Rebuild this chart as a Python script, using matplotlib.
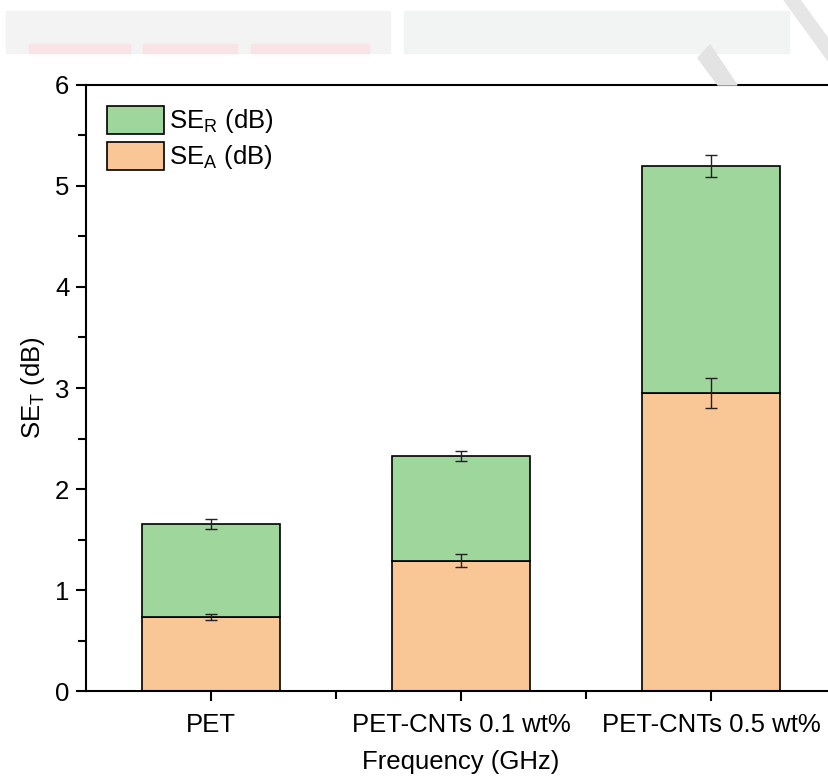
import numpy as np
import matplotlib.pyplot as plt
from matplotlib.patches import Rectangle, Polygon

plt.rcParams['font.family'] = ['Liberation Sans', 'DejaVu Sans']
plt.rcParams['mathtext.fontset'] = 'custom'
plt.rcParams['mathtext.rm'] = 'Liberation Sans'

samples = ['PET', 'PET-CNTs 0.1 wt%', 'PET-CNTs 0.5 wt%']
se_a = [0.73, 1.29, 2.95]
se_a_err = [0.03, 0.065, 0.15]
se_r = [0.92, 1.04, 2.25]
se_t_err = [0.05, 0.05, 0.11]

green = '#9fd69b'
orange = '#f9c696'
fs = 18.5

fig = plt.figure(figsize=(8.29, 7.81), dpi=100)
ax = fig.add_axes([0.1037, 0.1152, 0.905, 0.776])

x = np.arange(len(samples))
se_t = np.array(se_a) + np.array(se_r)
ax.bar(x, se_a, width=0.55, color=orange, edgecolor='black', linewidth=1.2,
       label='SE$_\\mathregular{A}$ (dB)', zorder=2)
ax.bar(x, se_r, width=0.55, bottom=se_a, color=green, edgecolor='black',
       linewidth=1.2, label='SE$_\\mathregular{R}$ (dB)', zorder=2)
ax.errorbar(x, se_a, yerr=se_a_err, fmt='none', ecolor='#222222',
            elinewidth=1, capsize=4.5, capthick=1, zorder=3)
ax.errorbar(x, se_t, yerr=se_t_err, fmt='none', ecolor='#222222',
            elinewidth=1, capsize=4.5, capthick=1, zorder=3)

ax.set_xlim(-0.5, 2.5)
ax.set_ylim(0, 6)
ax.set_xticks(x)
ax.set_xticklabels(samples)
ax.set_xticks([0.5, 1.5], minor=True)
ax.set_yticks(range(7))
ax.set_yticks(np.arange(0.5, 6, 1), minor=True)
ax.tick_params(axis='both', which='major', direction='out', length=7, width=1.5,
               labelsize=fs, pad=5)
ax.tick_params(axis='x', which='major', pad=9)
ax.tick_params(axis='both', which='minor', direction='out', length=5.5, width=1.5)
for s in ax.spines.values():
    s.set_linewidth(1.5)

ax.set_xlabel('Frequency (GHz)', fontsize=fs, labelpad=9)
ax.set_ylabel('SE$_\\mathregular{T}$ (dB)', fontsize=fs, labelpad=6)

h, l = ax.get_legend_handles_labels()
ax.legend(h[::-1], l[::-1], loc='upper left', frameon=False, fontsize=fs,
          handlelength=2.25, handleheight=1.3, handletextpad=0.2,
          labelspacing=0.25, borderaxespad=0.4, bbox_to_anchor=(0.0, 1.0))

# faint scan header at top
fig.patches.append(Rectangle((6 / 829, 1 - 53 / 781), 384 / 829, 42 / 781,
                             transform=fig.transFigure, color='#f3f3f3', zorder=0))
fig.patches.append(Rectangle((404 / 829, 1 - 53 / 781), 385 / 829, 42 / 781,
                             transform=fig.transFigure, color='#f2f3f3', zorder=0))
for x0, x1 in [(29, 130), (143, 237), (251, 369)]:
    fig.patches.append(Rectangle((x0 / 829, 1 - 53 / 781), (x1 - x0) / 829, 9 / 781,
                                 transform=fig.transFigure, color='#f8e3e6', zorder=0))
fig.patches.append(Polygon([(784 / 829, 1), (800 / 829, 1), (829 / 829, 1 - 40 / 781),
                            (829 / 829, 1 - 62 / 781)], closed=True,
                           transform=fig.transFigure, color='#e6e6e6', zorder=0))
fig.patches.append(Polygon([(698 / 829, 1 - 58 / 781), (710 / 829, 1 - 45 / 781),
                            (737 / 829, 1 - 85 / 781), (718 / 829, 1 - 85 / 781)],
                           closed=True, transform=fig.transFigure, color='#e3e3e3',
                           zorder=0))

fig.savefig('out.png', dpi=100)
